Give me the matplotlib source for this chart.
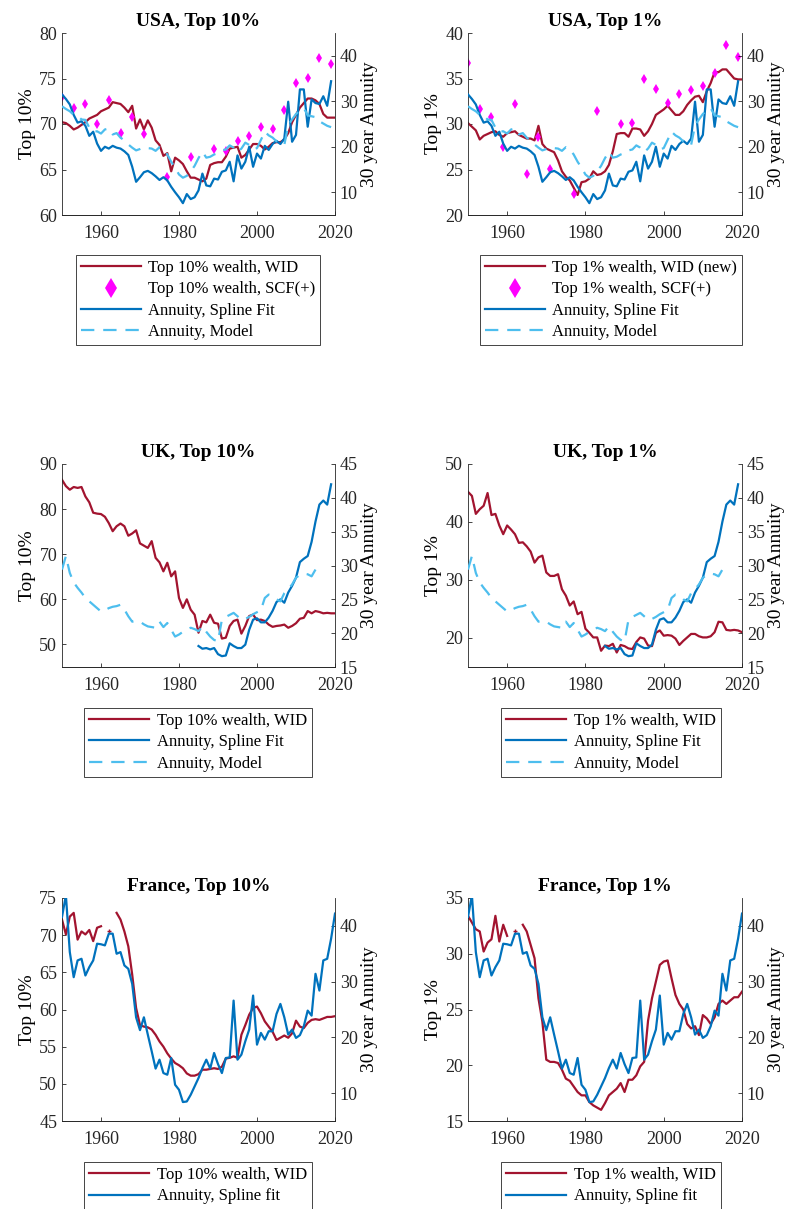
import numpy as np
import matplotlib
matplotlib.use("Agg")
import matplotlib.pyplot as plt
from matplotlib.lines import Line2D

plt.rcParams['font.family'] = ['Liberation Serif', 'DejaVu Serif']
plt.rcParams['font.size'] = 12

red = '#A2142F'
blue = '#0072BD'
lightblue = '#4DBEEE'
magenta = '#FF00FF'
nan = np.nan

# ---------------- USA ----------------
usa_years = list(range(1950, 2021))
usa_top10_wid = [70.2, 70.1, 69.8, 69.4, 69.6, 69.9, 70.2, 70.6, 70.8, 71.0,
                 71.4, 71.6, 71.8, 72.4, 72.3, 72.2, 71.8, 71.3, 72.0, 69.5,
                 70.5, 69.4, 70.4, 69.6, 68.2, 67.7, 66.5, 66.8, 64.8, 66.3,
                 66.0, 65.6, 64.8, 64.1, 64.1, 63.9, 63.7, 64.0, 65.5, 65.7,
                 65.8, 65.8, 66.4, 67.3, 67.4, 67.5, 66.3, 66.6, 67.2, 67.8,
                 67.8, 67.6, 67.2, 67.5, 67.9, 68.0, 68.0, 68.3, 69.0, 70.2,
                 71.0, 71.8, 72.3, 72.8, 72.8, 72.6, 72.2, 71.1, 70.7, 70.7, 70.7]
usa_top1_wid = [30.1, 29.7, 29.3, 28.3, 28.7, 28.9, 29.1, 29.2, 28.8, 28.6,
                29.0, 29.1, 29.2, 28.8, 28.6, 28.4, 28.4, 28.2, 29.8, 27.8,
                27.3, 27.1, 26.9, 26.0, 24.8, 24.2, 23.8, 23.0, 22.2, 23.6,
                23.7, 24.0, 24.8, 24.4, 24.5, 24.8, 25.5, 27.0, 28.9, 29.0,
                29.0, 28.6, 29.5, 29.5, 29.4, 28.7, 29.2, 30.0, 31.0, 31.3,
                31.6, 32.0, 31.5, 31.0, 31.0, 31.4, 32.1, 32.6, 33.0, 33.1,
                32.4, 33.6, 34.5, 35.7, 35.7, 36.0, 36.0, 35.5, 35.0, 34.9, 34.9]
scf_years = [1950, 1953, 1956, 1959, 1962, 1965, 1968, 1971, 1977, 1983, 1989,
             1992, 1995, 1998, 2001, 2004, 2007, 2010, 2013, 2016, 2019]
usa_top10_scf = [73.0, 71.8, 72.2, 70.0, 72.6, 69.0, 70.75, 68.9, 64.15, 66.35, 67.3,
                 67.0, 68.1, 68.7, 69.7, 69.5, 71.5, 74.5, 75.1, 77.2, 76.6]
usa_top1_scf = [36.7, 31.6, 30.75, 27.5, 32.2, 24.5, 28.6, 25.1, 22.3, 31.4, 30.0,
                30.1, 35.0, 33.9, 32.3, 33.3, 33.7, 34.2, 35.6, 38.7, 37.4]
usa_ann_years = list(range(1950, 2020))
usa_spline = [31.5, 30.5, 29.3, 27.0, 25.3, 25.6, 24.6, 22.4, 23.3, 20.7,
              19.1, 20.0, 19.6, 20.2, 19.8, 19.6, 19.0, 18.2, 15.6, 12.3,
              13.3, 14.4, 14.7, 14.2, 13.5, 12.7, 13.3, 12.6, 11.2, 10.0,
              8.9, 7.6, 9.6, 8.5, 8.9, 10.4, 14.1, 11.5, 11.3, 13.0,
              12.8, 14.5, 14.8, 16.7, 12.4, 18.1, 15.2, 16.7, 20.0, 15.6,
              18.5, 17.4, 20.2, 19.3, 20.6, 21.3, 20.6, 21.8, 29.9, 21.1,
              22.6, 32.6, 32.6, 24.4, 30.4, 29.6, 29.4, 31.1, 29.0, 34.4]
usa_model = [28.9, 28.3, 27.8, 27.0, 26.8, 26.0, 25.9, 24.2, 23.3, 23.4,
             22.9, 23.8, 24.0, 22.7, 23.0, 22.0, 21.4, 20.5, 19.8, 19.2,
             19.5, 19.9, 19.7, 19.6, 19.1, 19.9, 19.5, 18.3, 16.7, 15.4,
             13.9, 13.2, 13.6, 14.6, 15.8, 17.5, 18.9, 17.6, 17.8, 18.3,
             18.6, 19.2, 19.4, 20.3, 19.8, 18.8, 19.6, 20.9, 20.4, 19.4,
             19.7, 21.5, 23.3, 22.5, 22.0, 21.2, 20.6, 20.4, 24.7, 26.0,
             27.2, 28.0, 28.5, 26.9, 26.7, 26.5, 25.6, 25.1, 24.6, 24.3]

# ---------------- UK ----------------
uk_years = list(range(1950, 2021))
uk_top10_wid = [86.5, 85.1, 84.3, 84.9, 84.7, 84.9, 82.8, 81.5, 79.2, 79.0,
                78.9, 78.3, 76.9, 75.1, 76.2, 76.8, 76.2, 74.1, 74.6, 75.3,
                72.4, 71.9, 71.4, 72.9, 69.2, 68.2, 66.2, 68.1, 65.1, 66.2,
                60.3, 58.1, 60.0, 57.7, 56.6, 52.6, 55.2, 54.9, 56.6, 54.8,
                54.6, 51.3, 51.5, 54.1, 55.2, 55.5, 52.4, 54.1, 56.3, 56.6,
                55.4, 55.5, 55.2, 54.4, 53.9, 54.1, 54.2, 54.4, 53.7, 54.1,
                54.7, 55.7, 55.9, 57.4, 56.9, 57.4, 57.2, 56.9, 57.0, 56.9, 56.9]
uk_top1_wid = [45.2, 44.5, 41.4, 42.2, 42.8, 45.0, 41.2, 41.4, 39.4, 37.9,
               39.4, 38.7, 37.9, 36.4, 36.5, 35.8, 34.9, 33.0, 33.9, 34.2,
               31.3, 30.7, 30.7, 31.0, 28.4, 27.3, 25.6, 26.3, 24.1, 24.5,
               21.6, 20.9, 20.1, 20.1, 17.8, 18.7, 18.6, 19.0, 17.5, 18.8,
               18.6, 18.2, 18.1, 19.3, 20.1, 19.9, 18.7, 18.6, 20.9, 21.3,
               20.4, 20.5, 20.4, 19.9, 18.8, 19.5, 20.1, 20.7, 20.7, 20.3,
               20.1, 20.1, 20.3, 21.0, 22.8, 22.7, 21.4, 21.3, 21.4, 21.3, 21.0]
uk_spline_years = list(range(1985, 2020))
uk_spline = [18.1, 17.7, 17.8, 17.6, 17.8, 16.9, 16.6, 16.7, 18.5, 18.1,
             17.8, 17.8, 18.3, 20.5, 22.0, 22.2, 21.6, 21.6, 22.3, 23.3,
             24.6, 25.0, 24.5, 26.0, 27.0, 28.2, 30.5, 31.0, 31.4, 33.5,
             36.5, 39.0, 39.6, 39.0, 42.0]
uk_model_years = list(range(1950, 2016))
uk_model = [29.4, 31.4, 28.9, 27.5, 26.7, 26.0, 25.2, 24.7, 24.2, 23.7,
            23.2, 23.4, 23.7, 23.9, 24.0, 24.2, 23.5, 22.5, 21.7, 21.8,
            21.7, 21.3, 21.0, 20.9, 20.8, 21.7, 20.9, 21.5, 20.5, 19.5,
            19.8, 20.2, 20.5, 20.8, 20.6, 20.3, 21.0, 20.2, 19.5, 19.0,
            18.8, 22.0, 22.4, 22.7, 23.0, 22.5, 22.0, 22.1, 22.4, 22.8,
            23.1, 23.4, 25.2, 25.7, 25.5, 25.0, 24.7, 25.9, 26.5, 27.2,
            28.2, 28.6, 28.8, 28.7, 28.4, 29.4]

# ---------------- France ----------------
fr_years = list(range(1950, 2021))
fr_top10_wid = [72.1, 70.1, 72.5, 73.0, 69.4, 70.5, 70.1, 70.7, 69.2, 71.0,
                71.2, nan, 70.6, nan, 73.0, 72.1, 70.5, 68.5, 64.7, 60.2,
                57.9, 57.7, 57.6, 57.3, 56.6, 55.7, 55.0, 54.1, 53.4, 52.8,
                52.5, 52.1, 51.4, 51.1, 51.1, 51.3, 51.9, 51.9, 52.0, 52.1,
                52.0, 52.3, 53.4, 53.5, 53.7, 53.5, 56.6, 57.9, 59.3, 60.2,
                60.4, 59.5, 58.4, 57.7, 57.0, 55.9, 56.2, 56.5, 56.2, 56.8,
                58.5, 57.7, 57.5, 58.2, 58.6, 58.7, 58.6, 58.8, 59.0, 59.0, 59.1]
fr_top1_wid = [33.4, 32.8, 32.2, 32.0, 30.2, 31.0, 31.3, 33.4, 31.1, 32.6,
               31.6, nan, 32.0, nan, 32.6, 32.0, 30.8, 29.6, 26.0, 23.9,
               20.5, 20.3, 20.3, 20.2, 19.6, 18.8, 18.6, 18.1, 17.6, 17.3,
               17.3, 16.7, 16.4, 16.2, 16.0, 16.6, 17.3, 17.6, 17.9, 18.4,
               17.6, 18.7, 18.7, 19.1, 19.9, 20.3, 24.0, 26.0, 27.5, 29.0,
               29.3, 29.4, 27.8, 26.3, 25.5, 25.0, 23.7, 23.3, 23.5, 22.7,
               24.5, 24.2, 23.7, 24.3, 25.5, 25.8, 25.5, 25.8, 26.1, 26.1, 26.6]
fr_spline = [41.6, 45.5, 35.3, 30.8, 33.8, 34.1, 31.1, 32.6, 33.8, 36.8,
             36.7, 36.5, 38.6, 38.6, 35.0, 35.3, 32.9, 32.3, 29.6, 23.6,
             21.3, 23.6, 20.5, 17.5, 14.4, 16.0, 13.6, 13.3, 16.3, 11.5,
             10.6, 8.4, 8.5, 9.7, 11.2, 12.7, 14.5, 16.0, 14.4, 17.2,
             15.2, 13.6, 16.3, 16.4, 26.6, 16.0, 16.9, 19.3, 21.4, 27.5,
             18.7, 20.8, 19.6, 21.1, 21.1, 24.2, 26.0, 23.6, 20.5, 21.4,
             19.9, 20.4, 22.0, 24.8, 23.9, 31.4, 28.4, 33.8, 34.1, 37.7, 42.2]

years_ticks = [1960, 1980, 2000, 2020]
W, H = 793, 1209


def make_axes(left, right, top, bottom):
    ax = fig.add_axes([left / W, 1 - bottom / H, (right - left) / W, (bottom - top) / H])
    ax2 = ax.twinx()
    for a in (ax, ax2):
        a.spines['top'].set_visible(False)
        a.tick_params(direction='in', length=3, width=0.6, colors='#262626', labelsize=13)
        for s in a.spines.values():
            s.set_linewidth(0.6)
            s.set_color('#262626')
    ax.tick_params(axis='x', pad=7)
    ax.spines['right'].set_visible(False)
    ax2.spines['left'].set_visible(False)
    ax.set_xlim(1950, 2020)
    ax.set_xticks(years_ticks)
    return ax, ax2


def finish(ax, ax2, title, ylab, lylim, lyticks, rylim, ryticks, handles, labels, lx, ly):
    ax.set_ylim(*lylim)
    ax.set_yticks(lyticks)
    ax2.set_ylim(*rylim)
    ax2.set_yticks(ryticks)
    ax.set_title(title, fontweight='bold', fontsize=14, pad=5)
    ax.set_ylabel(ylab, fontsize=14, labelpad=2)
    ax2.set_ylabel('30 year Annuity', fontsize=14, labelpad=2)
    leg = ax.legend(handles, labels, loc='upper center', bbox_to_anchor=(lx / W, 1 - ly / H),
                    bbox_transform=fig.transFigure, fontsize=12, handlelength=3.6,
                    handletextpad=0.45, labelspacing=0.32, borderpad=0.3, borderaxespad=0,
                    fancybox=False, edgecolor='#262626', framealpha=1, markerscale=2.0)
    leg.get_frame().set_linewidth(0.6)


fig = plt.figure(figsize=(W / 100, H / 100), dpi=100)
lw = 1.6
dash = (0, (6, 4))

# USA panels
for col, (wid, scf, title, ylab, lylim, lyticks, widlab, scflab, lx) in enumerate([
        (usa_top10_wid, usa_top10_scf, 'USA, Top 10%', 'Top 10%', (60, 80), [60, 65, 70, 75, 80],
         'Top 10% wealth, WID', 'Top 10% wealth, SCF(+)', 198),
        (usa_top1_wid, usa_top1_scf, 'USA, Top 1%', 'Top 1%', (20, 40), [20, 25, 30, 35, 40],
         'Top 1% wealth, WID (new)', 'Top 1% wealth, SCF(+)', 611)]):
    left, right = (62, 335) if col == 0 else (468, 742)
    ax, ax2 = make_axes(left, right, 33, 215)
    ax.plot(usa_years, wid, color=red, lw=lw)
    ax.plot(scf_years, scf, 'd', color=magenta, markersize=5, markeredgewidth=0)
    ax2.plot(usa_ann_years, usa_spline, color=blue, lw=lw)
    ax2.plot(usa_ann_years, usa_model, color=lightblue, lw=lw, linestyle=dash)
    handles = [Line2D([], [], color=red, lw=lw),
               Line2D([], [], color=magenta, marker='d', ls='none', markersize=5, markeredgewidth=0),
               Line2D([], [], color=blue, lw=lw),
               Line2D([], [], color=lightblue, lw=lw, linestyle=dash)]
    finish(ax, ax2, title, ylab, lylim, lyticks, (5, 45), [10, 20, 30, 40], handles,
           [widlab, scflab, 'Annuity, Spline Fit', 'Annuity, Model'], lx, 255)

# UK panels
for col, (wid, title, ylab, lylim, lyticks, widlab, lx) in enumerate([
        (uk_top10_wid, 'UK, Top 10%', 'Top 10%', (45, 90), [50, 60, 70, 80, 90], 'Top 10% wealth, WID', 198),
        (uk_top1_wid, 'UK, Top 1%', 'Top 1%', (15, 50), [20, 30, 40, 50], 'Top 1% wealth, WID', 611)]):
    left, right = (62, 335) if col == 0 else (468, 742)
    ax, ax2 = make_axes(left, right, 464, 667)
    ax.plot(uk_years, wid, color=red, lw=lw)
    ax2.plot(uk_spline_years, uk_spline, color=blue, lw=lw)
    ax2.plot(uk_model_years, uk_model, color=lightblue, lw=lw, linestyle=dash)
    handles = [Line2D([], [], color=red, lw=lw),
               Line2D([], [], color=blue, lw=lw),
               Line2D([], [], color=lightblue, lw=lw, linestyle=dash)]
    finish(ax, ax2, title, ylab, lylim, lyticks, (15, 45), [15, 20, 25, 30, 35, 40, 45], handles,
           [widlab, 'Annuity, Spline Fit', 'Annuity, Model'], lx, 708)

# France panels
for col, (wid, title, ylab, lylim, lyticks, widlab, lx) in enumerate([
        (fr_top10_wid, 'France, Top 10%', 'Top 10%', (45, 75), [45, 50, 55, 60, 65, 70, 75], 'Top 10% wealth, WID', 198),
        (fr_top1_wid, 'France, Top 1%', 'Top 1%', (15, 35), [15, 20, 25, 30, 35], 'Top 1% wealth, WID', 611)]):
    left, right = (62, 335) if col == 0 else (468, 742)
    ax, ax2 = make_axes(left, right, 898, 1121)
    ax.plot(fr_years, wid, color=red, lw=lw)
    # isolated observation between the gaps
    ax.plot(fr_years[12], wid[12], '+', color=red, markersize=3, markeredgewidth=1)
    ax2.plot(fr_years, fr_spline, color=blue, lw=lw)
    handles = [Line2D([], [], color=red, lw=lw),
               Line2D([], [], color=blue, lw=lw)]
    finish(ax, ax2, title, ylab, lylim, lyticks, (5, 45), [10, 20, 30, 40], handles,
           [widlab, 'Annuity, Spline fit'], lx, 1162)

fig.savefig('out.png', dpi=100)
